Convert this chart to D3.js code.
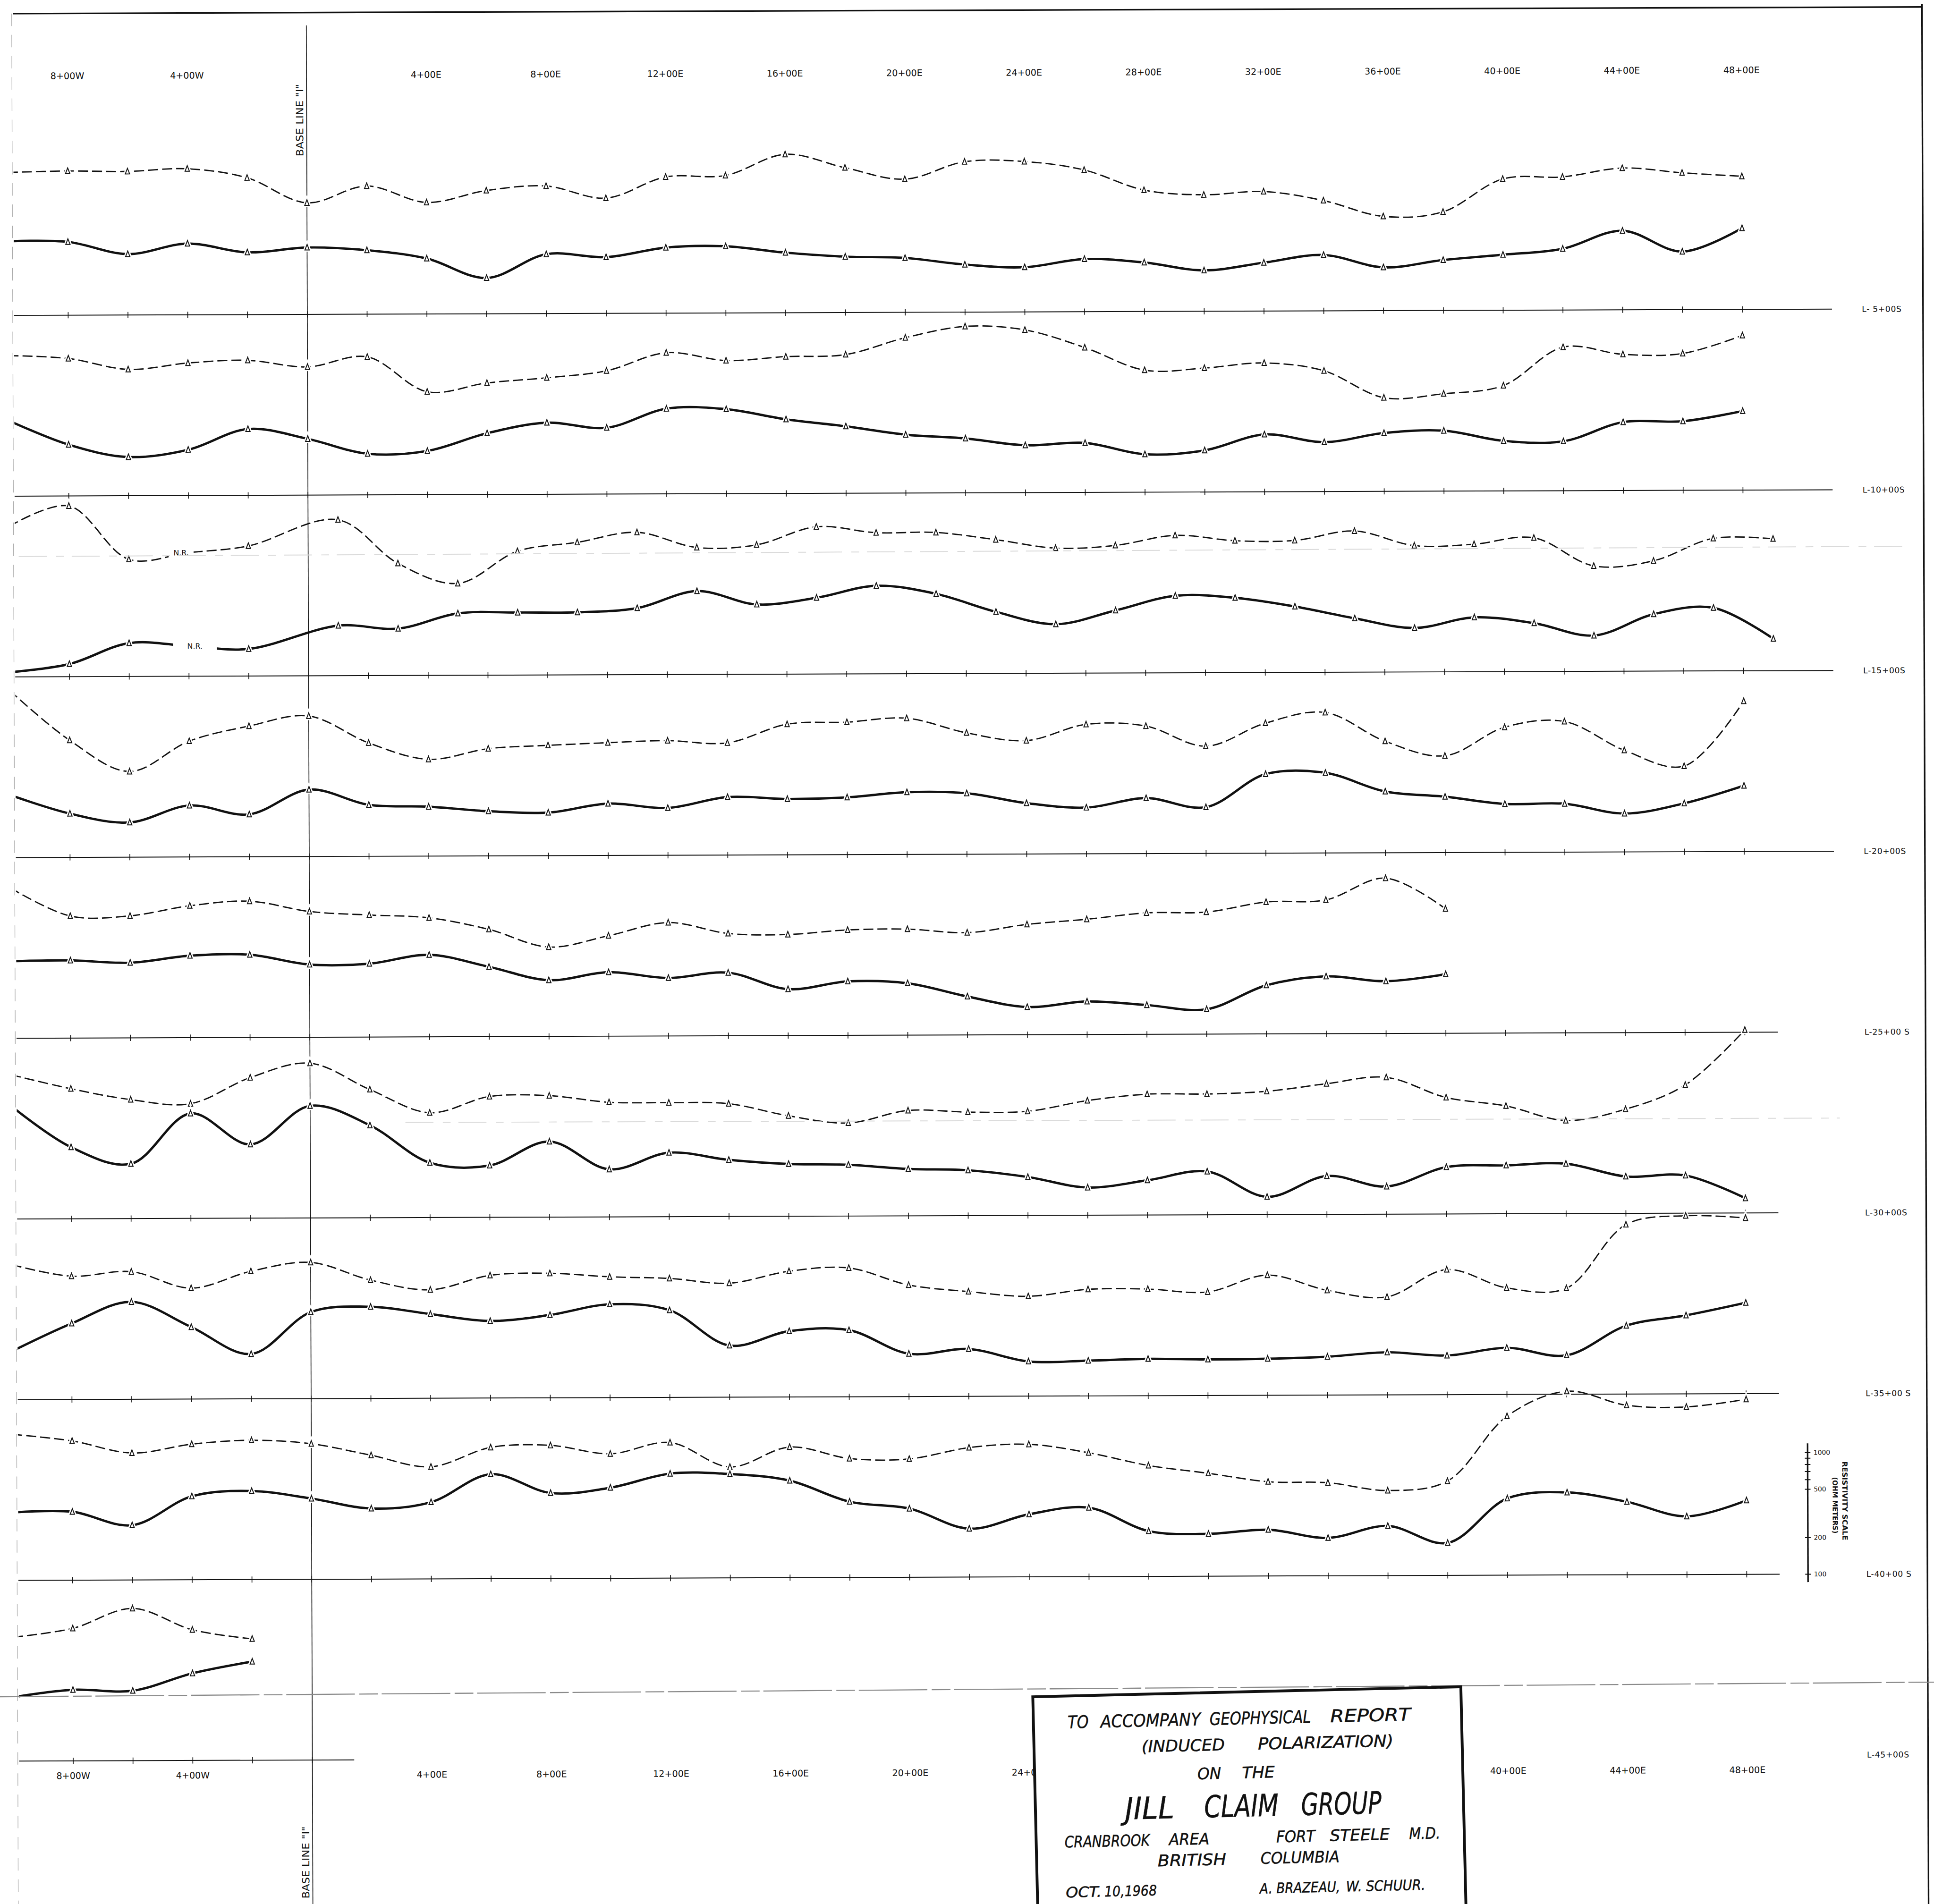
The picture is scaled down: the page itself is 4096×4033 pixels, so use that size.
<!DOCTYPE html>
<html>
<head>
<meta charset="utf-8">
<script src="https://d3js.org/d3.v7.min.js"></script>
<style>
  body { margin: 0; background: #fff; }
  svg { display: block; }
  text { font-family: "DejaVu Sans", sans-serif; fill: #111; }
</style>
</head>
<body>
<script>
// stations in hundreds of feet along each line, west negative; -10 is the sheet edge
var evenSt = d3.range(-10, 49, 2);
var l15St = [-10, -8, -6, -4, -2].concat(d3.range(1, 50, 2));

// dashed curve = chargeability (msec), solid curve = resistivity (ohm-m); null = N.R.
var l05Chg = [23.2, 23.4, 23.3, 23.7, 22.2, 18.1, 20.8, 18.1, 20.0, 20.7, 18.7, 22.1, 22.3, 25.7, 23.5, 21.6, 24.4, 24.4, 23.0, 19.7, 18.9, 19.4, 17.9, 15.3, 16.0, 21.3, 21.6, 23.0, 22.2, 21.6];
var l05Res = [407, 401, 317, 385, 325, 355, 336, 286, 197, 308, 290, 346, 353, 312, 288, 280, 246, 233, 271, 253, 217, 250, 288, 227, 260, 286, 319, 447, 300, 466];
var l10Chg = [22.8, 22.3, 20.5, 21.5, 21.9, 20.8, 22.4, 16.7, 18.1, 18.9, 20.0, 22.9, 21.6, 22.2, 22.5, 25.2, 27.0, 26.4, 23.5, 19.8, 20.1, 20.9, 19.6, 15.2, 15.8, 17.1, 23.3, 22.1, 22.2, 25.1];
var l10Res = [418, 264, 208, 238, 351, 290, 218, 229, 319, 388, 351, 502, 495, 407, 355, 302, 280, 245, 255, 205, 220, 296, 255, 302, 314, 258, 255, 365, 370, 447];
var l15Chg = [24.4, 27.7, 19.0, null, 21.1, 25.3, 18.2, 14.9, 20.1, 21.5, 23.1, 20.6, 21.0, 23.9, 22.9, 22.9, 21.7, 20.3, 20.7, 22.3, 21.4, 21.4, 22.9, 20.5, 20.7, 21.7, 17.1, 17.9, 21.5, 21.4];
var l15Res = [109, 127, 188, null, 167, 258, 243, 323, 327, 327, 353, 485, 375, 424, 530, 453, 321, 253, 327, 430, 412, 348, 277, 230, 280, 250, 197, 294, 330, 183];
var l20Chg = [27.1, 19.0, 13.9, 18.8, 21.2, 22.8, 18.4, 15.7, 17.4, 17.9, 18.3, 18.6, 18.2, 21.2, 21.5, 22.1, 19.7, 18.4, 21.0, 20.7, 17.4, 21.1, 22.8, 18.1, 15.7, 20.3, 21.2, 16.5, 13.9, 24.4];
var l20Res = [327, 229, 193, 265, 223, 355, 265, 255, 233, 226, 267, 245, 300, 288, 296, 325, 317, 262, 240, 286, 240, 447, 456, 319, 288, 250, 250, 207, 250, 348];
var l25Chg = [24.4, 19.8, 19.8, 21.4, 22.1, 20.4, 19.8, 19.3, 17.4, 14.5, 16.3, 18.4, 16.6, 16.4, 17.1, 17.2, 16.6, 17.9, 18.7, 19.7, 19.8, 21.4, 21.7, 25.2, 20.2];
var l25Res = [430, 435, 415, 472, 479, 396, 401, 472, 375, 290, 336, 300, 330, 241, 278, 267, 207, 169, 187, 174, 160, 251, 296, 269, 306];
var l30Chg = [23.4, 21.1, 19.3, 18.6, 22.8, 25.1, 20.8, 17.0, 19.6, 19.7, 18.6, 18.5, 18.3, 16.3, 15.1, 17.1, 16.8, 16.9, 18.6, 19.6, 19.6, 20.0, 21.2, 22.2, 18.9, 17.5, 15.1, 16.9, 20.8, 29.7];
var l30Res = [851, 388, 282, 729, 404, 835, 575, 282, 267, 418, 246, 336, 292, 269, 264, 243, 236, 207, 169, 193, 227, 140, 207, 169, 243, 250, 257, 201, 204, 132];
var l35Chg = [21.9, 20.0, 20.7, 18.0, 20.7, 22.1, 19.2, 17.6, 19.9, 20.2, 19.6, 19.3, 18.5, 20.4, 20.9, 18.1, 17.0, 16.2, 17.3, 17.3, 16.8, 19.5, 17.0, 15.9, 20.3, 17.3, 17.2, 27.5, 28.9, 28.5];
var l35Res = [250, 422, 632, 391, 234, 515, 567, 492, 430, 480, 585, 521, 266, 348, 353, 225, 245, 193, 195, 201, 198, 200, 207, 224, 210, 242, 209, 365, 442, 559];
var l40Chg = [23.7, 22.6, 20.6, 22.0, 22.6, 22.0, 20.1, 18.2, 21.3, 21.6, 20.2, 22.0, 18.0, 21.2, 19.3, 19.2, 21.0, 21.5, 20.1, 18.0, 16.7, 15.3, 15.1, 13.8, 15.3, 25.8, 29.8, 27.5, 27.2, 28.4];
var l40Res = [362, 365, 282, 486, 535, 462, 381, 428, 723, 505, 556, 723, 714, 628, 420, 367, 250, 327, 369, 236, 223, 240, 205, 256, 185, 428, 477, 398, 301, 406];
var l45Chg = [20.1, 21.5, 24.7, 21.2, 19.7];
var l45Res = [335, 384, 376, 521, 648];

var stationLabels = [-8, -4, 4, 8, 12, 16, 20, 24, 28, 32, 36, 40, 44, 48];
var resTicks = [100, 200, 500, 600, 700, 800, 900, 1000];
var resLabels = [100, 200, 500, 1000];

var profiles = [
  { south: 5,  label: "L- 5+00S",  st: evenSt, chg: l05Chg, res: l05Res, end: 51 },
  { south: 10, label: "L-10+00S",  st: evenSt, chg: l10Chg, res: l10Res, end: 51 },
  { south: 15, label: "L-15+00S",  st: l15St,  chg: l15Chg, res: l15Res, end: 51 },
  { south: 20, label: "L-20+00S",  st: evenSt, chg: l20Chg, res: l20Res, end: 51 },
  { south: 25, label: "L-25+00 S", st: evenSt.slice(0, 25), chg: l25Chg, res: l25Res, end: 49.1 },
  { south: 30, label: "L-30+00S",  st: evenSt, chg: l30Chg, res: l30Res, end: 49.1 },
  { south: 35, label: "L-35+00 S", st: evenSt, chg: l35Chg, res: l35Res, end: 49.1 },
  { south: 40, label: "L-40+00 S", st: evenSt, chg: l40Chg, res: l40Res, end: 49.1 },
  { south: 45, label: "L-45+00S",  st: evenSt.slice(0, 5), chg: l45Chg, res: l45Res, end: 1.4 }
];

// everything is laid out in the original sheet's pixels, then scaled to the window
var K = 4096 / 6202;
var svg = d3.select("body").append("svg").attr("width", 4096).attr("height", 4033);
svg.append("rect").attr("width", 4096).attr("height", 4033).attr("fill", "#fff");
var root = svg.append("g").attr("transform", "scale(" + K + ")");
var sheet = root.append("g").attr("transform", "rotate(-0.2 3100 3050)");

var x = d3.scaleLinear().domain([0, 48]).range([992.7, 5594.5]);
var lineY = d3.scaleLinear().domain([5, 40]).range([1001, 5058]);
var resH = d3.scaleLog().domain([100, 1000]).range([0, 390]);
var chgH = d3.scaleLinear().domain([0, 30]).range([0, 593]);

var leftEdge = 52, rightEdge = 6174, topEdge = 33;
var ink = "#111";

function stLabel(s) { return s < 0 ? (-s) + "+00W" : s + "+00E"; }

// scan artefacts: faint fold lines
root.append("line").attr("x1", 60).attr("y1", 1785).attr("x2", 6100).attr("y2", 1752)
  .attr("stroke", "#dadada").attr("stroke-width", 3).attr("stroke-dasharray", "90 30 25 25");
root.append("line").attr("x1", 1300).attr("y1", 3600).attr("x2", 5900).attr("y2", 3586)
  .attr("stroke", "#dadada").attr("stroke-width", 3).attr("stroke-dasharray", "90 30 25 25");
root.append("line").attr("x1", 0).attr("y1", 5442).attr("x2", 6202).attr("y2", 5395)
  .attr("stroke", "#8a8a8a").attr("stroke-width", 3.5).attr("stroke-dasharray", "220 14 60 12");

// sheet borders
sheet.append("line").attr("x1", leftEdge).attr("x2", rightEdge).attr("y1", topEdge).attr("y2", topEdge)
  .attr("stroke", ink).attr("stroke-width", 5);
sheet.append("line").attr("x1", rightEdge).attr("x2", rightEdge).attr("y1", topEdge - 10).attr("y2", 6200)
  .attr("stroke", ink).attr("stroke-width", 5);
sheet.append("line").attr("x1", leftEdge - 4).attr("x2", leftEdge - 4).attr("y1", topEdge).attr("y2", 6200)
  .attr("stroke", "#aaa").attr("stroke-width", 2).attr("stroke-dasharray", "40 28");

// base line "I"
sheet.append("line").attr("x1", x(0)).attr("x2", x(0)).attr("y1", 74).attr("y2", 6200)
  .attr("stroke", ink).attr("stroke-width", 2.5);
[{ y: 494 }, { y: 6082 }].forEach(function(b) {
  sheet.append("text")
    .attr("transform", "translate(" + (x(0) - 11) + "," + b.y + ") rotate(-90)")
    .attr("font-family", "'DejaVu Sans Mono', monospace").attr("font-size", 32)
    .attr("textLength", 232).attr("lengthAdjust", "spacingAndGlyphs")
    .text("BASE LINE \"I\"");
});

// station labels, top and bottom
[233, 5685].forEach(function(yy) {
  sheet.selectAll(null).data(stationLabels).enter().append("text")
    .attr("x", function(s) { return x(s); }).attr("y", yy).attr("dy", "0.36em")
    .attr("text-anchor", "middle").attr("font-size", 29)
    .text(stLabel);
});

// profile lines with station ticks and names
profiles.forEach(function(p) {
  var y0 = lineY(p.south);
  sheet.append("line").attr("x1", leftEdge).attr("x2", x(p.end)).attr("y1", y0).attr("y2", y0)
    .attr("stroke", ink).attr("stroke-width", 3);
  var ticks = evenSt.filter(function(s) { return s > -10 && s <= Math.min(48, p.end); });
  sheet.selectAll(null).data(ticks).enter().append("line")
    .attr("x1", function(s) { return x(s); }).attr("x2", function(s) { return x(s); })
    .attr("y1", y0 - 10).attr("y2", y0 + 10)
    .attr("stroke", ink).attr("stroke-width", 2.5);
  sheet.append("text").attr("x", x(52)).attr("y", y0).attr("dy", "0.36em")
    .attr("font-size", 26).attr("letter-spacing", 1).text(p.label);
});

// curves
var defs = svg.append("defs");
defs.append("clipPath").attr("id", "edge").append("rect")
  .attr("x", leftEdge).attr("y", 0).attr("width", rightEdge - leftEdge).attr("height", 6200);
var curveLayer = sheet.append("g").attr("clip-path", "url(#edge)");
var markLayer = sheet.append("g");
var nrLayer = sheet.append("g");

var line = d3.line().x(function(q) { return q.x; }).y(function(q) { return q.y; })
  .curve(d3.curveCatmullRom.alpha(0.5));

function buildPoints(p, vals, h) {
  var y0 = lineY(p.south);
  var pts = p.st.map(function(s, i) {
    return { s: s, x: x(s), y: vals[i] == null ? null : y0 - h(vals[i]), nr: vals[i] == null };
  });
  // N.R. label sits where the curve is broken
  pts.forEach(function(q, i) { if (q.nr) q.y = (pts[i - 1].y + pts[i + 1].y) / 2; });
  return pts;
}

var tri = "M0,-10L7,8L-7,8Z";

profiles.forEach(function(p) {
  [
    { vals: p.chg, h: chgH, w: 4.2, dash: "32 13", gap: 80, dx: -0.25 },
    { vals: p.res, h: resH, w: 7.5, dash: null, gap: 140, dx: 0.2 }
  ].forEach(function(ser) {
    var pts = buildPoints(p, ser.vals, ser.h);
    curveLayer.append("path").attr("d", line(pts))
      .attr("fill", "none").attr("stroke", ink).attr("stroke-width", ser.w)
      .attr("stroke-linecap", ser.dash ? "butt" : "round")
      .attr("stroke-dasharray", ser.dash);
    var marks = pts.filter(function(q) { return q.s > -10 && !q.nr; });
    markLayer.selectAll(null).data(marks).enter().append("path")
      .attr("transform", function(q) { return "translate(" + q.x + "," + q.y + ")"; })
      .attr("d", tri).attr("fill", "#fff").attr("stroke", "#fff").attr("stroke-width", 11);
    markLayer.selectAll(null).data(marks).enter().append("path")
      .attr("transform", function(q) { return "translate(" + q.x + "," + q.y + ")"; })
      .attr("d", tri).attr("fill", "#fff").attr("stroke", ink).attr("stroke-width", 3);
    pts.filter(function(q) { return q.nr; }).forEach(function(q) {
      var cx = x(q.s + ser.dx);
      nrLayer.append("rect").attr("x", cx - ser.gap / 2).attr("y", q.y - 18)
        .attr("width", ser.gap).attr("height", 36).attr("fill", "#fff");
      nrLayer.append("text").attr("x", cx).attr("y", q.y).attr("dy", "0.36em")
        .attr("text-anchor", "middle").attr("font-size", 24).text("N.R.");
    });
  });
});

// resistivity scale, 100 ohm-m sits on line L-40
var scaleX = x(50.05);
var resBar = d3.scaleLog().domain([100, 1000]).range([lineY(40), lineY(40) - 390]);
var scaleG = sheet.append("g").attr("transform", "translate(" + scaleX + ",0)");
scaleG.append("line").attr("x1", 0).attr("x2", 0).attr("y1", resBar(86)).attr("y2", resBar(1190))
  .attr("stroke", ink).attr("stroke-width", 5);
var axis = d3.axisRight(resBar).tickValues(resTicks).tickSize(9).tickPadding(10)
  .tickFormat(function(d) { return resLabels.indexOf(d) >= 0 ? d : ""; });
scaleG.append("g").call(axis).call(function(a) {
  a.select(".domain").remove();
  a.selectAll(".tick line").attr("x1", -9).attr("stroke", ink).attr("stroke-width", 3);
  a.selectAll(".tick text").attr("font-size", 21).attr("font-family", "'DejaVu Sans', sans-serif")
    .attr("fill", ink);
});
scaleG.append("text")
  .attr("transform", "translate(111," + (lineY(40) - 361) + ") rotate(90)")
  .attr("font-size", 23).attr("font-weight", "bold")
  .attr("textLength", 253).attr("lengthAdjust", "spacingAndGlyphs")
  .text("RESISTIVITY   SCALE");
scaleG.append("text")
  .attr("transform", "translate(80," + (lineY(40) - 311) + ") rotate(90)")
  .attr("font-size", 22).attr("font-weight", "bold")
  .attr("textLength", 181).attr("lengthAdjust", "spacingAndGlyphs")
  .text("(OHM  METERS)");

// title block
var titleWords = [
  { t: "TO", x0: 110, x1: 177, y: 104, fs: 56 },
  { t: "ACCOMPANY", x0: 215, x1: 536, y: 104, fs: 56 },
  { t: "GEOPHYSICAL", x0: 565, x1: 890, y: 104, fs: 56 },
  { t: "REPORT", x0: 952, x1: 1210, y: 104, fs: 56 },
  { t: "(INDUCED", x0: 345, x1: 612, y: 186, fs: 52 },
  { t: "POLARIZATION)", x0: 718, x1: 1153, y: 186, fs: 52 },
  { t: "ON", x0: 522, x1: 598, y: 277, fs: 51 },
  { t: "THE", x0: 665, x1: 770, y: 277, fs: 51 },
  { t: "JILL", x0: 287, x1: 445, y: 400, fs: 98 },
  { t: "CLAIM", x0: 541, x1: 780, y: 400, fs: 98 },
  { t: "GROUP", x0: 852, x1: 1110, y: 400, fs: 98 },
  { t: "CRANBROOK", x0: 91, x1: 364, y: 486, fs: 51 },
  { t: "AREA", x0: 426, x1: 555, y: 486, fs: 51 },
  { t: "FORT", x0: 770, x1: 895, y: 485, fs: 51 },
  { t: "STEELE", x0: 942, x1: 1134, y: 485, fs: 51 },
  { t: "M.D.", x0: 1196, x1: 1296, y: 485, fs: 51 },
  { t: "BRITISH", x0: 388, x1: 608, y: 553, fs: 51 },
  { t: "COLUMBIA", x0: 718, x1: 971, y: 553, fs: 51 },
  { t: "OCT.", x0: 91, x1: 206, y: 646, fs: 46 },
  { t: "10,1968", x0: 215, x1: 383, y: 646, fs: 46 },
  { t: "A. BRAZEAU,", x0: 713, x1: 971, y: 648, fs: 46 },
  { t: "W. SCHUUR.", x0: 990, x1: 1244, y: 648, fs: 46 }
];
var box = root.append("g").attr("transform", "translate(3312,5442) rotate(-1.34)");
box.append("rect").attr("x", 0).attr("y", 0).attr("width", 1373).attr("height", 800)
  .attr("fill", "#fff").attr("stroke", ink).attr("stroke-width", 9);
box.selectAll(null).data(titleWords).enter().append("text")
  .attr("x", function(d) { return d.x0; }).attr("y", function(d) { return d.y; })
  .attr("font-size", function(d) { return d.fs; }).attr("font-style", "italic")
  .attr("stroke", ink).attr("stroke-width", 0.8)
  .attr("textLength", function(d) { return d.x1 - d.x0; }).attr("lengthAdjust", "spacingAndGlyphs")
  .text(function(d) { return d.t; });
</script>
</body>
</html>
